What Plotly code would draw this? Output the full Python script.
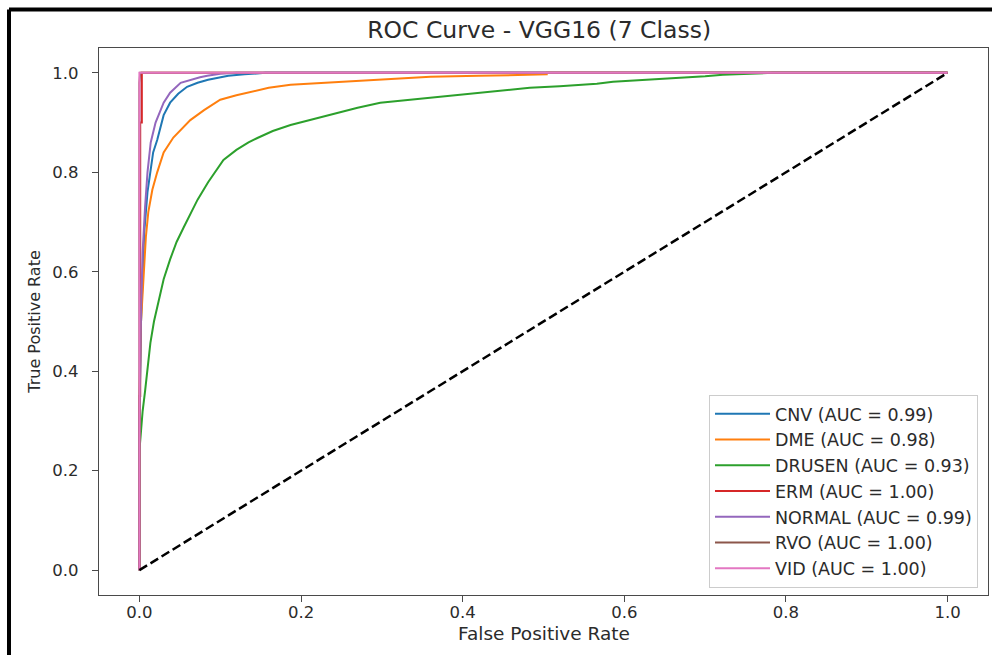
import plotly.graph_objects as go

# ---- data ----
class_names = ["CNV", "DME", "DRUSEN", "ERM", "NORMAL", "RVO", "VID"]
auc_values = [0.99, 0.98, 0.93, 1.00, 0.99, 1.00, 1.00]
colors = ["#1f77b4", "#ff7f0e", "#2ca02c", "#d62728", "#9467bd", "#8c564b", "#e377c2"]

cnv_fpr = [0, 0, 0.002, 0.004, 0.006, 0.010, 0.017, 0.022, 0.030, 0.038, 0.048, 0.059, 0.072, 0.085, 0.096, 0.110, 0.130, 0.156, 1.0]
cnv_tpr = [0, 0.30, 0.50, 0.60, 0.68, 0.76, 0.84, 0.865, 0.915, 0.940, 0.958, 0.972, 0.980, 0.986, 0.990, 0.994, 0.997, 1.0, 1.0]

dme_fpr = [0, 0, 0.002, 0.005, 0.008, 0.011, 0.016, 0.022, 0.030, 0.042, 0.054, 0.063, 0.080, 0.100, 0.120, 0.137, 0.160, 0.187, 0.220, 0.250, 0.280, 0.310, 0.360, 0.420, 0.470, 0.504, 0.504, 1.0]
dme_tpr = [0, 0.35, 0.50, 0.60, 0.67, 0.72, 0.765, 0.80, 0.84, 0.87, 0.89, 0.905, 0.925, 0.946, 0.955, 0.962, 0.970, 0.976, 0.979, 0.982, 0.985, 0.988, 0.992, 0.994, 0.996, 0.997, 1.0, 1.0]

drusen_fpr = [0, 0, 0.002, 0.004, 0.007, 0.010, 0.0136, 0.018, 0.024, 0.030, 0.038, 0.046, 0.055, 0.064, 0.072, 0.085, 0.095, 0.104, 0.120, 0.135, 0.146, 0.165, 0.187, 0.210, 0.230, 0.248, 0.270, 0.298, 0.330, 0.360, 0.390, 0.420, 0.450, 0.483, 0.520, 0.566, 0.586, 0.620, 0.669, 0.700, 0.722, 0.750, 0.784, 1.0]
drusen_tpr = [0, 0.24, 0.28, 0.32, 0.36, 0.41, 0.457, 0.50, 0.543, 0.585, 0.625, 0.66, 0.69, 0.72, 0.745, 0.78, 0.805, 0.825, 0.845, 0.86, 0.869, 0.883, 0.895, 0.905, 0.913, 0.921, 0.93, 0.94, 0.945, 0.95, 0.955, 0.96, 0.965, 0.97, 0.973, 0.978, 0.982, 0.985, 0.99, 0.993, 0.996, 0.998, 1.0, 1.0]

erm_fpr = [0, 0, 0.001, 0.001, 0.003, 0.003, 1.0]
erm_tpr = [0, 0.35, 0.35, 0.90, 0.90, 1.0, 1.0]

normal_fpr = [0, 0, 0.002, 0.004, 0.007, 0.010, 0.014, 0.020, 0.030, 0.038, 0.051, 0.063, 0.075, 0.084, 0.100, 0.120, 1.0]
normal_tpr = [0, 0.30, 0.52, 0.64, 0.73, 0.80, 0.86, 0.90, 0.94, 0.96, 0.98, 0.986, 0.991, 0.994, 0.998, 1.0, 1.0]

rvo_fpr = [0, 0, 0.001, 1.0]
rvo_tpr = [0, 0.98, 1.0, 1.0]

vid_fpr = [0, 0, 1.0]
vid_tpr = [0, 1.0, 1.0]

chance_x = [0, 1]
chance_y = [0, 1]

tick_vals = [0.0, 0.2, 0.4, 0.6, 0.8, 1.0]
tick_text = ["0.0", "0.2", "0.4", "0.6", "0.8", "1.0"]

all_fpr = [cnv_fpr, dme_fpr, drusen_fpr, erm_fpr, normal_fpr, rvo_fpr, vid_fpr]
all_tpr = [cnv_tpr, dme_tpr, drusen_tpr, erm_tpr, normal_tpr, rvo_tpr, vid_tpr]

FONT = "DejaVu Sans"
TXT = "#2b2b2b"

fig = go.Figure()
for name, auc, col, fx, ty in zip(class_names, auc_values, colors, all_fpr, all_tpr):
    fig.add_trace(go.Scatter(
        x=fx, y=ty, mode="lines", name=f"{name} (AUC = {auc:.2f})",
        line=dict(color=col, width=2),
    ))

fig.add_trace(go.Scatter(
    x=chance_x, y=chance_y, mode="lines", showlegend=False,
    line=dict(color="black", width=2.5, dash="9px,4px"),
))

axis_common = dict(
    range=[-0.05, 1.05], tickvals=tick_vals, ticktext=tick_text,
    showgrid=False, zeroline=False, automargin=False,
    showline=True, mirror=True, linecolor="#4a4a4a", linewidth=1.3,
    ticks="outside", ticklen=6, tickwidth=1.3, tickcolor="#4a4a4a",
    tickfont=dict(family=FONT, size=16.5, color=TXT),
)

fig.update_layout(
    width=992, height=655,
    margin=dict(l=99, r=4, t=48, b=60, autoexpand=False),
    paper_bgcolor="white", plot_bgcolor="white",
    title=dict(text="ROC Curve - VGG16 (7 Class)", x=0.5435, xanchor="center",
               y=1 - 29.5 / 655, yref="container", yanchor="middle",
               font=dict(family=FONT, size=23.5, color=TXT)),
    xaxis=dict(**axis_common, ticklabelstandoff=-4),
    yaxis=dict(**axis_common, ticklabelstandoff=10,
               title=dict(text="True Positive Rate", standoff=7,
                          font=dict(family=FONT, size=16, color=TXT))),
    legend=dict(x=0.98875, y=0.0128, xanchor="right", yanchor="bottom",
                bgcolor="rgba(255,255,255,0.8)", bordercolor="#cccccc", borderwidth=1,
                font=dict(family=FONT, size=17.5, color=TXT),
                itemwidth=55, tracegroupgap=0),
    showlegend=True,
)

# x-axis title as an annotation for exact placement
fig.add_annotation(text="False Positive Rate", xref="paper", yref="paper",
                   x=0.5, y=-0.0695, xanchor="center", yanchor="middle",
                   showarrow=False, font=dict(family=FONT, size=18.5, color=TXT))

# black frame of the screenshot (left and top edges)
fig.add_shape(type="line", xref="paper", yref="paper",
              x0=-0.10124, x1=1.01, y0=1.0705, y1=1.0705,
              line=dict(color="black", width=4))
fig.add_shape(type="line", xref="paper", yref="paper",
              x0=-0.10124, x1=-0.10124, y0=-0.12, y1=1.0705,
              line=dict(color="black", width=4))

fig.write_html("out.html",
               config={"displayModeBar": False},
               post_script="document.body.style.margin='0';document.body.style.overflow='hidden';")
